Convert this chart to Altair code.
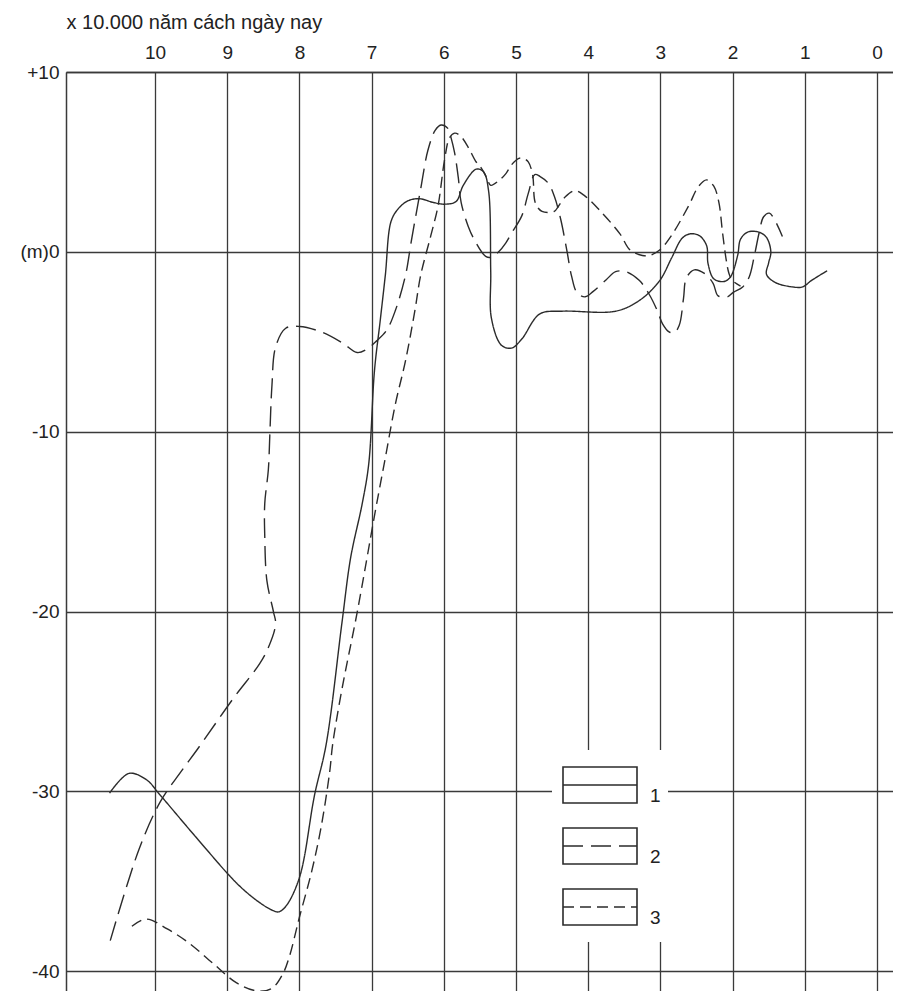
import altair as alt
import pandas as pd

# ---- axis ticks / labels ----
x_ticks = [10, 9, 8, 7, 6, 5, 4, 3, 2, 1, 0]
y_ticks = [10, 0, -10, -20, -30, -40]
x_title = "x 10.000 năm cách ngày nay"
legend_labels = ["1", "2", "3"]

# ---- series 1 (solid) : x = 10,000 years before present, y = metres ----
s1_x = [10.63, 10.36, 10.12, 9.93, 9.40, 8.87, 8.58, 8.38, 8.29, 8.19,
        8.0, 7.79, 7.63, 7.41, 7.29, 7.13, 7.04, 6.96, 6.88, 6.81,
        6.73, 6.63, 6.49, 6.33, 6.15, 5.99, 5.83, 5.73, 5.55, 5.45,
        5.38, 5.35, 5.34, 5.2, 5.06, 4.92, 4.67, 4.36, 3.62, 3.29,
        3.01, 2.84, 2.70, 2.59, 2.46, 2.36, 2.34, 2.26, 2.12, 2.03,
        1.93, 1.89, 1.79, 1.64, 1.53, 1.47, 1.50, 1.53, 1.41, 1.17,
        1.03, 0.91, 0.69]
s1_y = [-30.1, -29.0, -29.35, -30.2, -32.7, -35.1, -36.1, -36.6, -36.7, -36.4,
        -34.8, -30.2, -27.4, -20.6, -17.0, -14.0, -11.8, -6.6, -3.8, -1.3,
        1.7, 2.4, 2.85, 2.95, 2.75, 2.65, 2.8, 3.7, 4.6, 4.45,
        3.4, -1.1, -3.7, -5.2, -5.35, -4.85, -3.45, -3.3, -3.3, -2.7,
        -1.6, -0.3, 0.75, 1.0, 0.9, 0.35, -0.65, -1.5, -1.65, -1.4,
        -0.2, 0.7, 1.1, 1.1, 0.8, 0.0, -0.6, -1.25, -1.7, -1.95,
        -1.95, -1.6, -1.05]

# ---- series 2 (long dashes) ----
s2_x = [10.62, 10.22, 9.93, 9.64, 9.42, 8.91, 8.55, 8.43, 8.33, 8.36,
        8.45, 8.48, 8.48, 8.43, 8.41, 8.38, 8.33, 8.19, 8.0, 7.7,
        7.41, 7.2, 7.08, 6.93, 6.79, 6.67, 6.53, 6.45, 6.32, 6.22,
        6.12, 6.04, 5.94, 5.90, 5.85, 5.80, 5.76, 5.66, 5.56, 5.42,
        5.34, 5.24, 5.14, 5.06, 4.92, 4.83, 4.74, 4.67, 4.55, 4.47,
        4.38, 4.29, 4.23, 4.15, 4.04, 3.93, 3.75, 3.62, 3.48, 3.29,
        3.15, 3.04, 2.97, 2.88, 2.81, 2.74, 2.68, 2.64, 2.53, 2.39,
        2.27, 2.20, 2.07, 1.99, 1.86, 1.77, 1.70, 1.63, 1.57, 1.49,
        1.31]
s2_y = [-38.3, -33.2, -30.6, -28.9, -27.7, -24.8, -22.9, -22.0, -20.7, -20.0,
        -18.3, -15.8, -14.0, -12.1, -10.2, -7.4, -5.3, -4.25, -4.15, -4.45,
        -5.05, -5.6, -5.45, -4.95, -4.35, -3.25, -1.3, 0.6, 3.5, 5.65,
        6.75, 7.05, 6.85, 6.35, 5.5, 4.15, 2.75, 1.4, 0.55, -0.25,
        -0.3, 0.0, 0.5, 1.05, 2.0, 3.25, 4.3, 4.2, 3.8, 3.1,
        1.8, -0.05, -1.35, -2.3, -2.5, -2.2, -1.55, -1.1, -1.1, -1.6,
        -2.4, -3.3, -4.0, -4.45, -4.5, -4.1, -2.6, -1.45, -1.0, -1.2,
        -1.75, -2.45, -2.5, -2.25, -1.95, -1.4, -0.25, 1.1, 1.95, 2.15,
        0.85]

# ---- series 3 (short dashes) ----
s3_x = [10.32, 10.12, 9.83, 9.54, 9.20, 8.87, 8.58, 8.38, 8.23, 8.14,
        8.0, 7.83, 7.70, 7.58, 7.54, 7.41, 7.20, 6.95, 6.81, 6.67,
        6.53, 6.40, 6.32, 6.18, 6.08, 5.99, 5.92, 5.85, 5.77, 5.66,
        5.56, 5.48, 5.41, 5.35, 5.24, 5.14, 5.06, 4.96, 4.90, 4.83,
        4.77, 4.73, 4.64, 4.47, 4.41, 4.32, 4.19, 4.06, 3.84, 3.56,
        3.42, 3.25, 3.15, 3.01, 2.84, 2.61, 2.47, 2.36, 2.26, 2.19,
        2.14, 2.09, 2.05, 2.00, 1.89]
s3_y = [-37.5, -37.1, -37.65, -38.4, -39.55, -40.65, -41.1, -40.95, -40.15, -39.2,
        -37.0, -34.45, -32.0, -28.9, -27.4, -24.3, -20.05, -14.45, -11.45, -8.45,
        -6.05, -3.25, -1.3, 0.9, 2.55, 5.1, 6.35, 6.6, 6.45, 5.8,
        5.05, 4.65, 4.15, 3.7, 3.95, 4.35, 4.85, 5.2, 5.2, 5.0,
        4.3, 2.7, 2.25, 2.25, 2.55, 3.05, 3.4, 3.15, 2.3, 1.0,
        0.1, -0.2, -0.2, 0.1, 0.95, 2.55, 3.65, 4.0, 3.65, 2.75,
        1.1, -0.4, -1.2, -1.6, -1.9]

rows = []
for name, xs, ys in [("1", s1_x, s1_y), ("2", s2_x, s2_y), ("3", s3_x, s3_y)]:
    for i, (a, b) in enumerate(zip(xs, ys)):
        rows.append({"series": name, "t": a, "h": b, "i": i})
df = pd.DataFrame(rows)

FONT = "Liberation Sans"
INK = "#2b2b2b"
W, H = 827, 919

dash_scale = alt.Scale(domain=legend_labels, range=[[1, 0], [20, 8], [11, 6]])

x_axis = alt.Axis(
    orient="top", values=x_ticks, grid=True, gridColor="#3a3a3a", gridWidth=1.3,
    domain=True, domainColor="#3a3a3a", domainWidth=1.5, ticks=False,
    labelPadding=14, labelBaseline="alphabetic", labelFont=FONT, labelFontSize=19,
    labelColor="#222222", labelFlush=False,
    title=x_title, titleFont=FONT, titleFontSize=20, titleFontWeight="normal",
    titleColor="#222222", titleX=0, titleY=-44, titleAlign="left",
    titleBaseline="alphabetic", titleAngle=0,
)
y_axis = alt.Axis(
    orient="left", values=y_ticks, grid=True, gridColor="#3a3a3a", gridWidth=1.3,
    domain=True, domainColor="#3a3a3a", domainWidth=1.5, ticks=False,
    labelPadding=7, labelFont=FONT, labelFontSize=19, labelColor="#222222",
    labelExpr="datum.value == 10 ? '+10' : (datum.value == 0 ? '(m)0' : '' + datum.value)",
    labelBaseline="middle", title=None,
)

lines = alt.Chart(df).mark_line(
    interpolate="catmull-rom", color=INK, strokeWidth=1.4
).encode(
    x=alt.X("t:Q", scale=alt.Scale(domain=[-0.222, 11.233], reverse=True, nice=False, zero=False), axis=x_axis),
    y=alt.Y("h:Q", scale=alt.Scale(domain=[-41.1, 10], nice=False, zero=False), axis=y_axis),
    strokeDash=alt.StrokeDash("series:N", scale=dash_scale, legend=None),
    detail="series:N",
    order="i:Q",
)

one = pd.DataFrame({"k": [0]})

# white area behind the hand-drawn legend
cover = alt.Chart(one).mark_rect(color="white").encode(
    x=alt.value(486), x2=alt.value(602), y=alt.value(678), y2=alt.value(870)
)

layers = [lines, cover]
box_left, box_right, box_top0, box_h, box_gap = 497, 571, 695, 36, 61
dashes = [[1, 0], [20, 8], [11, 6]]
for k, lab in enumerate(legend_labels):
    top = box_top0 + k * box_gap
    layers.append(
        alt.Chart(one).mark_rect(fill="white", stroke=INK, strokeWidth=1.6).encode(
            x=alt.value(box_left), x2=alt.value(box_right),
            y=alt.value(top), y2=alt.value(top + box_h)
        )
    )
    layers.append(
        alt.Chart(one).mark_rule(color=INK, strokeWidth=1.4, strokeDash=dashes[k]).encode(
            x=alt.value(box_left), x2=alt.value(box_right), y=alt.value(top + box_h / 2)
        )
    )
    layers.append(
        alt.Chart(one).mark_text(
            font=FONT, fontSize=19, color="#222222", align="left", baseline="middle"
        ).encode(
            x=alt.value(box_right + 13), y=alt.value(top + 29), text=alt.value(lab)
        )
    )

chart = alt.layer(*layers).properties(
    width=W, height=H,
    autosize=alt.AutoSizeParams(type="none"),
    padding={"left": 58, "top": 64, "right": 0, "bottom": 0},
).configure_view(stroke=None).configure(background="white")

chart.save("out.html", embed_options={"renderer": "svg", "actions": False})
